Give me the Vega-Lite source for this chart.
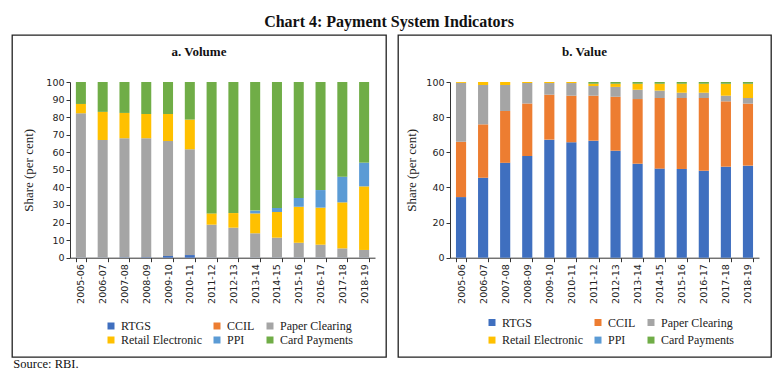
{
  "$schema": "https://vega.github.io/schema/vega-lite/v6.json",
  "padding": {"left": 6, "top": 14, "right": 12, "bottom": 8},
  "title": {"text": "Chart 4: Payment System Indicators", "anchor": "middle", "font": "Liberation Serif", "fontSize": 16, "fontWeight": "bold", "color": "#111", "offset": 4},
  "datasets": {
    "catorder": [
      {"cat": "RTGS", "rank": 1}, {"cat": "CCIL", "rank": 2}, {"cat": "Paper Clearing", "rank": 3},
      {"cat": "Retail Electronic", "rank": 4}, {"cat": "PPI", "rank": 5}, {"cat": "Card Payments", "rank": 6}
    ],
    "volume": [
      {"year": "2005-06", "cat": "RTGS", "share": 0.1}, {"year": "2005-06", "cat": "CCIL", "share": 0}, {"year": "2005-06", "cat": "Paper Clearing", "share": 82.1}, {"year": "2005-06", "cat": "Retail Electronic", "share": 5.3}, {"year": "2005-06", "cat": "PPI", "share": 0}, {"year": "2005-06", "cat": "Card Payments", "share": 12.5},
      {"year": "2006-07", "cat": "RTGS", "share": 0.1}, {"year": "2006-07", "cat": "CCIL", "share": 0}, {"year": "2006-07", "cat": "Paper Clearing", "share": 66.9}, {"year": "2006-07", "cat": "Retail Electronic", "share": 16.0}, {"year": "2006-07", "cat": "PPI", "share": 0}, {"year": "2006-07", "cat": "Card Payments", "share": 17.0},
      {"year": "2007-08", "cat": "RTGS", "share": 0.2}, {"year": "2007-08", "cat": "CCIL", "share": 0}, {"year": "2007-08", "cat": "Paper Clearing", "share": 67.8}, {"year": "2007-08", "cat": "Retail Electronic", "share": 14.4}, {"year": "2007-08", "cat": "PPI", "share": 0}, {"year": "2007-08", "cat": "Card Payments", "share": 17.6},
      {"year": "2008-09", "cat": "RTGS", "share": 0.3}, {"year": "2008-09", "cat": "CCIL", "share": 0}, {"year": "2008-09", "cat": "Paper Clearing", "share": 67.7}, {"year": "2008-09", "cat": "Retail Electronic", "share": 13.8}, {"year": "2008-09", "cat": "PPI", "share": 0}, {"year": "2008-09", "cat": "Card Payments", "share": 18.2},
      {"year": "2009-10", "cat": "RTGS", "share": 1.0}, {"year": "2009-10", "cat": "CCIL", "share": 0}, {"year": "2009-10", "cat": "Paper Clearing", "share": 65.4}, {"year": "2009-10", "cat": "Retail Electronic", "share": 15.4}, {"year": "2009-10", "cat": "PPI", "share": 0}, {"year": "2009-10", "cat": "Card Payments", "share": 18.2},
      {"year": "2010-11", "cat": "RTGS", "share": 1.5}, {"year": "2010-11", "cat": "CCIL", "share": 0}, {"year": "2010-11", "cat": "Paper Clearing", "share": 60.2}, {"year": "2010-11", "cat": "Retail Electronic", "share": 16.9}, {"year": "2010-11", "cat": "PPI", "share": 0}, {"year": "2010-11", "cat": "Card Payments", "share": 21.4},
      {"year": "2011-12", "cat": "RTGS", "share": 0.1}, {"year": "2011-12", "cat": "CCIL", "share": 0}, {"year": "2011-12", "cat": "Paper Clearing", "share": 18.7}, {"year": "2011-12", "cat": "Retail Electronic", "share": 6.4}, {"year": "2011-12", "cat": "PPI", "share": 0}, {"year": "2011-12", "cat": "Card Payments", "share": 74.8},
      {"year": "2012-13", "cat": "RTGS", "share": 0.1}, {"year": "2012-13", "cat": "CCIL", "share": 0}, {"year": "2012-13", "cat": "Paper Clearing", "share": 17.0}, {"year": "2012-13", "cat": "Retail Electronic", "share": 8.3}, {"year": "2012-13", "cat": "PPI", "share": 0}, {"year": "2012-13", "cat": "Card Payments", "share": 74.6},
      {"year": "2013-14", "cat": "RTGS", "share": 0.1}, {"year": "2013-14", "cat": "CCIL", "share": 0}, {"year": "2013-14", "cat": "Paper Clearing", "share": 13.8}, {"year": "2013-14", "cat": "Retail Electronic", "share": 11.3}, {"year": "2013-14", "cat": "PPI", "share": 1.6}, {"year": "2013-14", "cat": "Card Payments", "share": 73.2},
      {"year": "2014-15", "cat": "RTGS", "share": 0.1}, {"year": "2014-15", "cat": "CCIL", "share": 0}, {"year": "2014-15", "cat": "Paper Clearing", "share": 11.3}, {"year": "2014-15", "cat": "Retail Electronic", "share": 14.6}, {"year": "2014-15", "cat": "PPI", "share": 2.3}, {"year": "2014-15", "cat": "Card Payments", "share": 71.7},
      {"year": "2015-16", "cat": "RTGS", "share": 0.1}, {"year": "2015-16", "cat": "CCIL", "share": 0}, {"year": "2015-16", "cat": "Paper Clearing", "share": 8.4}, {"year": "2015-16", "cat": "Retail Electronic", "share": 20.5}, {"year": "2015-16", "cat": "PPI", "share": 5.0}, {"year": "2015-16", "cat": "Card Payments", "share": 66.0},
      {"year": "2016-17", "cat": "RTGS", "share": 0.1}, {"year": "2016-17", "cat": "CCIL", "share": 0}, {"year": "2016-17", "cat": "Paper Clearing", "share": 7.3}, {"year": "2016-17", "cat": "Retail Electronic", "share": 21.1}, {"year": "2016-17", "cat": "PPI", "share": 10.0}, {"year": "2016-17", "cat": "Card Payments", "share": 61.5},
      {"year": "2017-18", "cat": "RTGS", "share": 0.1}, {"year": "2017-18", "cat": "CCIL", "share": 0}, {"year": "2017-18", "cat": "Paper Clearing", "share": 5.2}, {"year": "2017-18", "cat": "Retail Electronic", "share": 26.2}, {"year": "2017-18", "cat": "PPI", "share": 14.6}, {"year": "2017-18", "cat": "Card Payments", "share": 53.9},
      {"year": "2018-19", "cat": "RTGS", "share": 0.1}, {"year": "2018-19", "cat": "CCIL", "share": 0}, {"year": "2018-19", "cat": "Paper Clearing", "share": 4.3}, {"year": "2018-19", "cat": "Retail Electronic", "share": 36.2}, {"year": "2018-19", "cat": "PPI", "share": 13.5}, {"year": "2018-19", "cat": "Card Payments", "share": 45.9}
    ],
    "value": [
      {"year": "2005-06", "cat": "RTGS", "share": 34.5}, {"year": "2005-06", "cat": "CCIL", "share": 31.5}, {"year": "2005-06", "cat": "Paper Clearing", "share": 33.5}, {"year": "2005-06", "cat": "Retail Electronic", "share": 0.5}, {"year": "2005-06", "cat": "PPI", "share": 0}, {"year": "2005-06", "cat": "Card Payments", "share": 0},
      {"year": "2006-07", "cat": "RTGS", "share": 45.5}, {"year": "2006-07", "cat": "CCIL", "share": 30.4}, {"year": "2006-07", "cat": "Paper Clearing", "share": 22.4}, {"year": "2006-07", "cat": "Retail Electronic", "share": 1.7}, {"year": "2006-07", "cat": "PPI", "share": 0}, {"year": "2006-07", "cat": "Card Payments", "share": 0},
      {"year": "2007-08", "cat": "RTGS", "share": 54.0}, {"year": "2007-08", "cat": "CCIL", "share": 29.5}, {"year": "2007-08", "cat": "Paper Clearing", "share": 14.8}, {"year": "2007-08", "cat": "Retail Electronic", "share": 1.7}, {"year": "2007-08", "cat": "PPI", "share": 0}, {"year": "2007-08", "cat": "Card Payments", "share": 0},
      {"year": "2008-09", "cat": "RTGS", "share": 57.9}, {"year": "2008-09", "cat": "CCIL", "share": 29.8}, {"year": "2008-09", "cat": "Paper Clearing", "share": 11.7}, {"year": "2008-09", "cat": "Retail Electronic", "share": 0.6}, {"year": "2008-09", "cat": "PPI", "share": 0}, {"year": "2008-09", "cat": "Card Payments", "share": 0},
      {"year": "2009-10", "cat": "RTGS", "share": 67.2}, {"year": "2009-10", "cat": "CCIL", "share": 25.6}, {"year": "2009-10", "cat": "Paper Clearing", "share": 6.6}, {"year": "2009-10", "cat": "Retail Electronic", "share": 0.6}, {"year": "2009-10", "cat": "PPI", "share": 0}, {"year": "2009-10", "cat": "Card Payments", "share": 0},
      {"year": "2010-11", "cat": "RTGS", "share": 65.7}, {"year": "2010-11", "cat": "CCIL", "share": 26.5}, {"year": "2010-11", "cat": "Paper Clearing", "share": 7.2}, {"year": "2010-11", "cat": "Retail Electronic", "share": 0.6}, {"year": "2010-11", "cat": "PPI", "share": 0}, {"year": "2010-11", "cat": "Card Payments", "share": 0},
      {"year": "2011-12", "cat": "RTGS", "share": 66.6}, {"year": "2011-12", "cat": "CCIL", "share": 25.6}, {"year": "2011-12", "cat": "Paper Clearing", "share": 5.5}, {"year": "2011-12", "cat": "Retail Electronic", "share": 1.3}, {"year": "2011-12", "cat": "PPI", "share": 0}, {"year": "2011-12", "cat": "Card Payments", "share": 1.0},
      {"year": "2012-13", "cat": "RTGS", "share": 60.9}, {"year": "2012-13", "cat": "CCIL", "share": 30.7}, {"year": "2012-13", "cat": "Paper Clearing", "share": 5.6}, {"year": "2012-13", "cat": "Retail Electronic", "share": 1.8}, {"year": "2012-13", "cat": "PPI", "share": 0}, {"year": "2012-13", "cat": "Card Payments", "share": 1.0},
      {"year": "2013-14", "cat": "RTGS", "share": 53.5}, {"year": "2013-14", "cat": "CCIL", "share": 36.8}, {"year": "2013-14", "cat": "Paper Clearing", "share": 5.3}, {"year": "2013-14", "cat": "Retail Electronic", "share": 3.4}, {"year": "2013-14", "cat": "PPI", "share": 0}, {"year": "2013-14", "cat": "Card Payments", "share": 1.0},
      {"year": "2014-15", "cat": "RTGS", "share": 50.7}, {"year": "2014-15", "cat": "CCIL", "share": 40.2}, {"year": "2014-15", "cat": "Paper Clearing", "share": 4.2}, {"year": "2014-15", "cat": "Retail Electronic", "share": 3.9}, {"year": "2014-15", "cat": "PPI", "share": 0}, {"year": "2014-15", "cat": "Card Payments", "share": 1.0},
      {"year": "2015-16", "cat": "RTGS", "share": 50.5}, {"year": "2015-16", "cat": "CCIL", "share": 40.4}, {"year": "2015-16", "cat": "Paper Clearing", "share": 3.0}, {"year": "2015-16", "cat": "Retail Electronic", "share": 5.1}, {"year": "2015-16", "cat": "PPI", "share": 0}, {"year": "2015-16", "cat": "Card Payments", "share": 1.0},
      {"year": "2016-17", "cat": "RTGS", "share": 49.5}, {"year": "2016-17", "cat": "CCIL", "share": 41.4}, {"year": "2016-17", "cat": "Paper Clearing", "share": 3.0}, {"year": "2016-17", "cat": "Retail Electronic", "share": 5.1}, {"year": "2016-17", "cat": "PPI", "share": 0}, {"year": "2016-17", "cat": "Card Payments", "share": 1.0},
      {"year": "2017-18", "cat": "RTGS", "share": 51.8}, {"year": "2017-18", "cat": "CCIL", "share": 37.2}, {"year": "2017-18", "cat": "Paper Clearing", "share": 3.2}, {"year": "2017-18", "cat": "Retail Electronic", "share": 6.7}, {"year": "2017-18", "cat": "PPI", "share": 0.1}, {"year": "2017-18", "cat": "Card Payments", "share": 1.0},
      {"year": "2018-19", "cat": "RTGS", "share": 52.4}, {"year": "2018-19", "cat": "CCIL", "share": 35.3}, {"year": "2018-19", "cat": "Paper Clearing", "share": 3.2}, {"year": "2018-19", "cat": "Retail Electronic", "share": 8.0}, {"year": "2018-19", "cat": "PPI", "share": 0.1}, {"year": "2018-19", "cat": "Card Payments", "share": 1.0}
    ]
  },
  "vconcat": [
    {
      "title": {"text": "Source: RBI.", "orient": "bottom", "anchor": "start", "font": "Liberation Serif", "fontSize": 12.5, "fontWeight": "normal", "color": "#111", "offset": 0, "dx": 7},
      "spacing": 12,
      "bounds": "flush",
      "hconcat": [
        {
          "width": 374,
          "height": 322,
          "view": {"stroke": "#222", "strokeWidth": 1.3},
          "title": {"text": "a. Volume", "frame": "group", "anchor": "middle", "offset": -24, "font": "Liberation Serif", "fontSize": 13, "fontWeight": "bold", "color": "#111"},
          "data": {"name": "volume"},
          "transform": [{"lookup": "cat", "from": {"data": {"name": "catorder"}, "key": "cat", "fields": ["rank"]}}],
          "mark": {"type": "bar"},
          "encoding": {
            "x": {"field": "year", "type": "ordinal", "title": null,
                  "scale": {"range": [58, 363], "paddingInner": 0.54, "paddingOuter": 0.27},
                  "axis": {"offset": -99.3, "labelAngle": -90, "tickBand": "extent", "labelPadding": 2}},
            "y": {"field": "share", "type": "quantitative", "stack": "zero", "title": "Share (per cent)",
                  "scale": {"domain": [0, 100], "range": [222.7, 47], "nice": false},
                  "axis": {"offset": -58, "values": [0, 10, 20, 30, 40, 50, 60, 70, 80, 90, 100], "titlePadding": 10}},
            "order": {"field": "rank", "type": "quantitative", "sort": "ascending"},
            "color": {"field": "cat", "type": "nominal",
                      "sort": ["RTGS", "CCIL", "Paper Clearing", "Retail Electronic", "PPI", "Card Payments"],
                      "scale": {"domain": ["RTGS", "CCIL", "Paper Clearing", "Retail Electronic", "PPI", "Card Payments"],
                                "range": ["#3f6fbf", "#ed7d31", "#a5a5a5", "#ffc000", "#5b9bd5", "#70ad47"]},
                      "legend": {"orient": "none", "legendX": 93, "legendY": 285, "direction": "horizontal", "columns": 3, "columnPadding": 9, "rowPadding": 2, "title": null}}
          }
        },
        {
          "width": 373,
          "height": 322,
          "view": {"stroke": "#222", "strokeWidth": 1.3},
          "title": {"text": "b. Value", "frame": "group", "anchor": "middle", "offset": -24, "font": "Liberation Serif", "fontSize": 13, "fontWeight": "bold", "color": "#111"},
          "data": {"name": "value"},
          "transform": [{"lookup": "cat", "from": {"data": {"name": "catorder"}, "key": "cat", "fields": ["rank"]}}],
          "mark": {"type": "bar"},
          "encoding": {
            "x": {"field": "year", "type": "ordinal", "title": null,
                  "scale": {"range": [52, 361], "paddingInner": 0.54, "paddingOuter": 0.27},
                  "axis": {"offset": -99.3, "labelAngle": -90, "tickBand": "extent", "labelPadding": 2}},
            "y": {"field": "share", "type": "quantitative", "stack": "zero", "title": "Share (per cent)",
                  "scale": {"domain": [0, 100], "range": [222.7, 47], "nice": false},
                  "axis": {"offset": -52, "values": [0, 20, 40, 60, 80, 100], "titlePadding": 7}},
            "order": {"field": "rank", "type": "quantitative", "sort": "ascending"},
            "color": {"field": "cat", "type": "nominal",
                      "sort": ["RTGS", "CCIL", "Paper Clearing", "Retail Electronic", "PPI", "Card Payments"],
                      "scale": {"domain": ["RTGS", "CCIL", "Paper Clearing", "Retail Electronic", "PPI", "Card Payments"],
                                "range": ["#3f6fbf", "#ed7d31", "#a5a5a5", "#ffc000", "#5b9bd5", "#70ad47"]},
                      "legend": {"orient": "none", "legendX": 88, "legendY": 281.5, "direction": "horizontal", "columns": 3, "columnPadding": 9, "rowPadding": 5.6, "title": null}}
          }
        }
      ],
      "resolve": {"scale": {"color": "independent"}, "legend": {"color": "independent"}}
    }
  ],
  "config": {
    "background": "white",
    "axis": {"labelFont": "DejaVu Sans", "labelFontSize": 9.5, "labelColor": "#222", "domainColor": "#333", "tickColor": "#333", "tickSize": 4, "grid": false, "titleFont": "Liberation Serif", "titleFontSize": 13, "titleFontWeight": "normal", "titleColor": "#222"},
    "legend": {"labelFont": "Liberation Serif", "labelFontSize": 12, "labelColor": "#222", "symbolType": "square", "symbolSize": 49, "symbolStrokeWidth": 0, "labelOffset": 4}
  }
}
